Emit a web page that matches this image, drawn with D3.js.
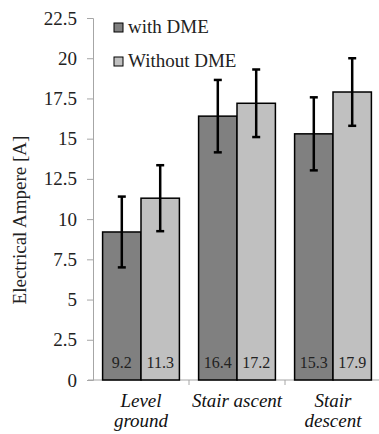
<!DOCTYPE html>
<meta charset="utf-8">
<script src="https://d3js.org/d3.v7.min.js"></script>
<style>
  body { margin: 0; background: #fff; }
</style>
<svg id="chart" width="379" height="434"></svg>
<script>
// data
var categories = ["Level ground", "Stair ascent", "Stair descent"];
var catLines = [["Level", "ground"], ["Stair ascent"], ["Stair", "descent"]];
var series = ["with DME", "Without DME"];
var withDME = [9.2, 16.4, 15.3];
var withoutDME = [11.3, 17.2, 17.9];
var errWith = [2.2, 2.25, 2.27];
var errWithout = [2.05, 2.1, 2.1];
var yTicks = [0, 2.5, 5, 7.5, 10, 12.5, 15, 17.5, 20, 22.5];

var FONT = "'Liberation Serif'";
var mLeft = 93, mRight = 381, mTop = 18, mBottom = 380;

var svg = d3.select("#chart");

var x = d3.scaleBand().domain(categories).range([mLeft, mRight]).paddingInner(0).paddingOuter(0);
var xs = d3.scaleBand().domain(series).range([0, x.bandwidth()]).paddingInner(0).paddingOuter(0.25);
var y = d3.scaleLinear().domain([0, 22.5]).range([mBottom, mTop]);
var color = d3.scaleOrdinal().domain(series).range(["#808080", "#c0c0c0"]);

// y axis
var yAxis = svg.append("g")
  .attr("transform", "translate(" + mLeft + ",0)")
  .call(d3.axisLeft(y).tickValues(yTicks).tickSize(6).tickPadding(10)
    .tickFormat(function(d){ return d; }));
yAxis.attr("font-family", null).attr("font-size", null);
yAxis.select(".domain").attr("stroke", "#a6a6a6");
yAxis.selectAll(".tick line").attr("stroke", "#a6a6a6");
yAxis.selectAll("text")
  .style("font-family", FONT, "important").style("font-size", "19px").attr("fill", "#222");

// x axis
var xAxis = svg.append("g")
  .attr("transform", "translate(0," + mBottom + ")");
xAxis.append("line").attr("x1", mLeft - 5).attr("x2", mRight).attr("stroke", "#a6a6a6");
xAxis.selectAll("tick").data(categories.slice(1)).enter().append("line")
  .attr("x1", function(d){ return x(d); }).attr("x2", function(d){ return x(d); })
  .attr("y1", 0).attr("y2", 5).attr("stroke", "#a6a6a6");

// rows
var rows = categories.map(function(c, i){
  return [
    {cat: c, s: series[0], v: withDME[i], e: errWith[i]},
    {cat: c, s: series[1], v: withoutDME[i], e: errWithout[i]}
  ];
});
var flat = [].concat.apply([], rows);

// bars
svg.selectAll("bars").data(flat).enter().append("rect")
  .attr("x", function(d){ return x(d.cat) + xs(d.s); })
  .attr("y", function(d){ return y(d.v); })
  .attr("width", xs.bandwidth())
  .attr("height", function(d){ return y(0) - y(d.v); })
  .attr("fill", function(d){ return color(d.s); })
  .attr("stroke", "#000").attr("stroke-width", 1.5);

// error bars
var eb = svg.selectAll("errs").data(flat).enter().append("g")
  .attr("stroke", "#000").attr("stroke-width", 2.5);
eb.append("line")
  .attr("x1", function(d){ return x(d.cat) + xs(d.s) + xs.bandwidth()/2; })
  .attr("x2", function(d){ return x(d.cat) + xs(d.s) + xs.bandwidth()/2; })
  .attr("y1", function(d){ return y(d.v + d.e); })
  .attr("y2", function(d){ return y(d.v - d.e); });
[1, -1].forEach(function(sign){
  eb.append("line")
    .attr("x1", function(d){ return x(d.cat) + xs(d.s) + xs.bandwidth()/2 - 4; })
    .attr("x2", function(d){ return x(d.cat) + xs(d.s) + xs.bandwidth()/2 + 4; })
    .attr("y1", function(d){ return y(d.v + sign*d.e); })
    .attr("y2", function(d){ return y(d.v + sign*d.e); });
});

// value labels
svg.selectAll("vals").data(flat).enter().append("text")
  .attr("x", function(d){ return x(d.cat) + xs(d.s) + xs.bandwidth()/2; })
  .attr("y", mBottom - 12)
  .attr("text-anchor", "middle")
  .attr("fill", "#222")
  .style("font-family", FONT, "important").style("font-size", "16px")
  .text(function(d){ return d.v.toFixed(1); });

// category labels
catLines.forEach(function(lines, i){
  lines.forEach(function(t, j){
    svg.append("text")
      .attr("x", x(categories[i]) + x.bandwidth()/2)
      .attr("y", 407 + j*20)
      .attr("text-anchor", "middle")
      .attr("fill", "#111")
      .style("font-family", FONT, "important").style("font-size", "19px").style("font-style", "italic")
      .text(t);
  });
});

// y title
svg.append("text")
  .attr("transform", "translate(26,220)rotate(-90)")
  .attr("text-anchor", "middle")
  .attr("fill", "#222")
  .style("font-family", FONT, "important").style("font-size", "19px")
  .text("Electrical Ampere [A]");

// legend
var leg = svg.selectAll("leg").data(series).enter().append("g")
  .attr("transform", function(d, i){ return "translate(114," + (23 + i*34) + ")"; });
leg.append("rect").attr("width", 9).attr("height", 9)
  .attr("fill", function(d){ return color(d); })
  .attr("stroke", "#000").attr("stroke-width", 1);
leg.append("text").attr("x", 14).attr("y", 10)
  .attr("fill", "#222")
  .style("font-family", FONT, "important").style("font-size", "19px")
  .text(function(d){ return d; });
</script>
